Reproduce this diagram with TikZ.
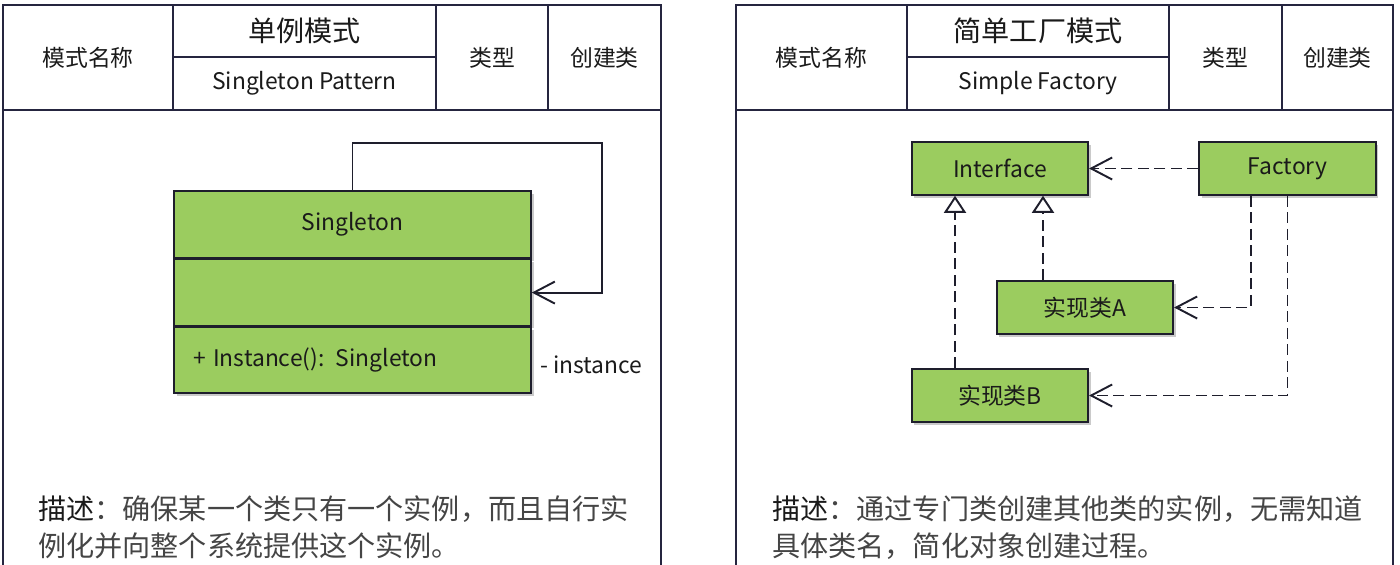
\documentclass[tikz,border=0pt]{standalone}
\usepackage{fontspec}
\setmainfont{Noto Sans CJK SC}
\usetikzlibrary{arrows.meta,positioning,calc,shadows}
\definecolor{umlgreen}{HTML}{9BCC5F}
\definecolor{umlline}{HTML}{1E1E2C}
\definecolor{frameline}{HTML}{25253F}
\definecolor{headtext}{HTML}{1A1A1A}
\definecolor{desctext}{HTML}{454545}

\begin{document}
\begin{tikzpicture}[
      font=\fontsize{13pt}{15pt}\selectfont,
      >=Latex,
      cell/.style={draw=frameline, line width=1pt, fill=white, inner sep=0pt,
                   minimum height=2.1cm, text=headtext},
      halfcell/.style={cell, minimum height=1.05cm},
      panel/.style={draw=frameline, line width=1pt},
      cls/.style={draw=umlline, line width=0.9pt, fill=umlgreen, inner sep=0pt,
                  minimum width=3.53cm, minimum height=1.06cm, text=headtext,
                  drop shadow={shadow xshift=0.05cm, shadow yshift=-0.05cm, fill=black!35, opacity=0.6}},
      assoc/.style={line width=1.1pt, draw=umlline, -{Straight Barb[length=4.2mm, width=4.4mm]}},
      dep/.style={assoc, dash pattern=on 2.2mm off 1.1mm},
      real/.style={line width=1.1pt, draw=umlline, dash pattern=on 2.2mm off 1.1mm,
                   -{Triangle[open, fill=white, length=3.4mm, width=4.4mm]}},
      desc/.style={anchor=north west, align=left, inner sep=0pt, text=desctext,
                   font=\fontsize{16pt}{21pt}\selectfont}
    ]
    \clip (0,0) rectangle (28,-11.28);

    % left: singleton
    \draw[panel] (0.06,-11.5) |- (13.22,-0.1) -- (13.22,-11.5);
    \node[cell, minimum width=3.4cm] (l-kind) at (1.76,-1.15) {模式名称};
    \node[halfcell, minimum width=5.26cm, font=\fontsize{16pt}{18pt}\selectfont] (l-cn) at (6.09,-0.62) {单例模式};
    \node[halfcell, minimum width=5.26cm] (l-en) at (6.09,-1.67) {Singleton Pattern};
    \node[cell, minimum width=2.24cm] (l-type) at (9.84,-1.15) {类型};
    \node[cell, minimum width=2.26cm] (l-cat) at (12.09,-1.15) {创建类};

    \node[cls, minimum width=7.14cm, minimum height=1.34cm] (single) at (7.05,-4.49) {Singleton};
    \node[cls, minimum width=7.14cm, minimum height=1.32cm, below=0pt of single] (single-attr) {};
    \node[cls, minimum width=7.14cm, minimum height=1.32cm, below=0pt of single-attr,
          text width=6.38cm, align=left] (single-op) {+ Instance(): Singleton};
    \coordinate (loop) at (12.04,-2.86);
    \draw[assoc] (single.north) |- (loop) |- (single-attr.east);
    \node[anchor=west, inner sep=0pt, text=headtext] (inst) at (10.8,-7.3) {- instance};

    \node[desc] (l-desc) at (0.76,-9.9)
      {\textcolor{headtext}{描述}：确保某一个类只有一个实例，而且自行实\\例化并向整个系统提供这个实例。};

    % right: simple factory
    \draw[panel] (14.72,-11.5) |- (27.86,-0.1) -- (27.86,-11.5);
    \node[cell, minimum width=3.42cm] (r-kind) at (16.43,-1.15) {模式名称};
    \node[halfcell, minimum width=5.24cm, font=\fontsize{16pt}{18pt}\selectfont] (r-cn) at (20.76,-0.62) {简单工厂模式};
    \node[halfcell, minimum width=5.24cm] (r-en) at (20.76,-1.67) {Simple Factory};
    \node[cell, minimum width=2.26cm] (r-type) at (24.51,-1.15) {类型};
    \node[cell, minimum width=2.22cm] (r-cat) at (26.75,-1.15) {创建类};

    \node[cls] (iface) at (20.0,-3.37) {Interface};
    \node[cls] (factory) at (25.75,-3.37) {Factory};
    \node[cls] (impla) at (21.7,-6.15) {实现类A};
    \node[cls] (implb) at (20.0,-7.91) {实现类B};
    \draw[dep] (factory.west) -- (iface.east);
    \draw[dep] ([xshift=-0.73cm]factory.south) |- (impla.east);
    \draw[dep] (factory.south) |- (implb.east);
    \draw[real] ([xshift=-0.84cm]impla.north) -- ([xshift=-0.84cm]impla.north |- iface.south);
    \draw[real] ([xshift=-0.9cm]implb.north) -- ([xshift=-0.9cm]iface.south);

    \node[desc] (r-desc) at (15.44,-9.9)
      {\textcolor{headtext}{描述}：通过专门类创建其他类的实例，无需知道\\具体类名，简化对象创建过程。};
  \end{tikzpicture}
\end{document}
